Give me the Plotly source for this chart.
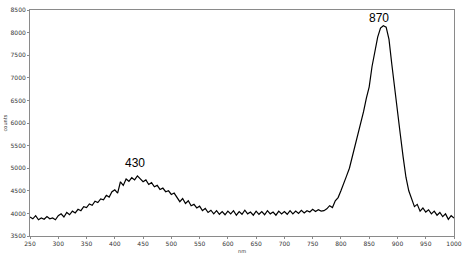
import plotly.graph_objects as go

# wavelength grid (nm) and counts
wavelength = list(range(250, 1001, 5))
counts = [
    3920, 3880, 3950, 3860, 3900, 3870, 3930, 3880, 3900, 3860,
    3950, 3990, 3920, 4020, 3970, 4050, 4010, 4090, 4060, 4150,
    4130, 4210, 4180, 4270, 4240, 4320, 4300, 4400, 4360, 4480,
    4520, 4450, 4700, 4620, 4760, 4710, 4790, 4740, 4830, 4770,
    4700, 4740, 4640, 4680, 4590, 4620, 4530, 4560, 4480, 4500,
    4420, 4450, 4350, 4260, 4330, 4220, 4280, 4170, 4200, 4120,
    4160, 4060, 4110, 4020, 4070, 3990, 4060, 3980, 4040, 3970,
    4050, 3990, 4060, 3960, 4040, 3980, 4070, 3990, 4030, 3960,
    4050, 3980, 4040, 3970, 4060, 3990, 4030, 3960, 4050, 3990,
    4040, 3980, 4060, 3990, 4050, 4000, 4070, 4010, 4060, 4030,
    4090, 4040, 4080, 4050, 4060, 4100, 4170, 4130, 4280, 4350,
    4500, 4650, 4830, 5000, 5250, 5480, 5700, 6000, 6250, 6550,
    6800, 7250, 7550, 7900, 8100, 8150, 8120, 7850, 7300, 6750,
    6250, 5750, 5250, 4800, 4500, 4300, 4150, 4200, 4050, 4120,
    4030, 4080, 3990, 4050, 3960, 4020, 3930, 3990, 3870, 3950,
    3900,
]

peak_labels = ["430", "870"]
peak_x = [436, 868]
peak_y = [5110, 8330]

AXIS = "#8a8a8a"
TICK_FONT = dict(family="DejaVu Sans", size=6, color="#333333")

fig = go.Figure(
    go.Scatter(
        x=wavelength,
        y=counts,
        mode="lines",
        line=dict(color="black", width=1.2),
        hoverinfo="skip",
    )
)

for t, x, y in zip(peak_labels, peak_x, peak_y):
    fig.add_annotation(
        x=x, y=y, xref="x", yref="y", text=t, showarrow=False,
        font=dict(family="Liberation Sans", size=12, color="black"),
    )

fig.add_annotation(
    x=0.5, y=-0.065, xref="paper", yref="paper", text="nm", showarrow=False,
    yanchor="middle", font=dict(family="DejaVu Sans", size=5, color="#333333"),
)
fig.add_annotation(
    x=-0.058, y=0.5, xref="paper", yref="paper", text="counts", showarrow=False,
    xanchor="center", textangle=-90,
    font=dict(family="DejaVu Sans", size=5, color="#333333"),
)

fig.update_layout(
    width=468,
    height=258,
    margin=dict(l=30, r=10, t=6, b=22),
    paper_bgcolor="white",
    plot_bgcolor="white",
    showlegend=False,
)
fig.update_xaxes(
    range=[250, 1000], tickmode="linear", tick0=250, dtick=50,
    showgrid=False, zeroline=False,
    showline=True, linecolor=AXIS, linewidth=1, mirror=True,
    ticks="outside", ticklen=2, tickcolor=AXIS, tickfont=TICK_FONT,
)
fig.update_yaxes(
    range=[3500, 8500], tickmode="linear", tick0=3500, dtick=500,
    showgrid=False, zeroline=False,
    showline=True, linecolor=AXIS, linewidth=1, mirror=True,
    ticks="outside", ticklen=2, tickcolor=AXIS, tickfont=TICK_FONT,
)

# drop the default page margin so the figure sits at the window's corner
fig.write_html(
    "out.html",
    config={"displayModeBar": False},
    post_script="document.body.style.margin='0';",
)
